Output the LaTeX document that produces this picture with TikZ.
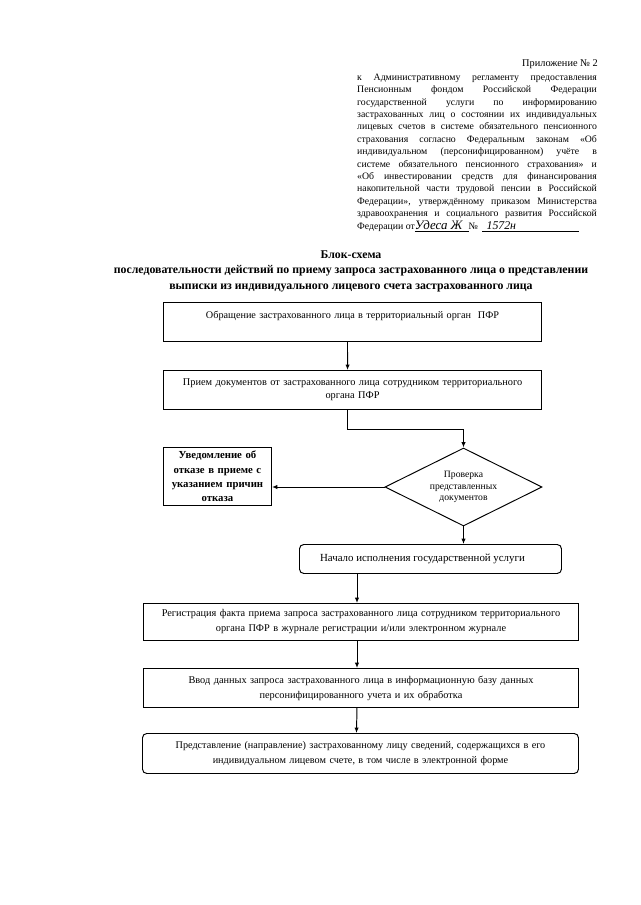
\documentclass[tikz,border=0pt]{standalone}
\usepackage{fontspec}
\setmainfont{Liberation Serif}
\usetikzlibrary{arrows.meta,shapes.geometric}
\def\u{0.9302pt}
\tikzset{
  box/.style={draw, line width=0.9pt, inner sep=1pt, align=center, anchor=north west, font=\fontsize{9.6}{12.5}\selectfont},
  lbox/.style={box, font=\fontsize{9.6}{14}\selectfont},
  rbox/.style={box, rounded corners=4pt},
  arr/.style={line width=0.9pt, -{Latex[length=5pt,width=4pt]}},
}
\begin{document}
\begin{tikzpicture}[x=\u, y=-\u]
\useasboundingbox (0,0) rectangle (640,905);
% header
\node[anchor=base east, inner sep=0pt, font=\fontsize{9.6}{12}\selectfont] (hd) at (598,67) {Приложение № 2};
\node[anchor=north west, inner sep=0pt, text width=223pt, align=justify, font=\fontsize{9.1}{11.55}\selectfont] (par) at (357,73.5)
{к Административному регламенту предоставления\linebreak
Пенсионным фондом Российской Федерации\linebreak
государственной услуги по информированию\linebreak
застрахованных лиц о состоянии их индивидуальных\linebreak
лицевых счетов в системе обязательного пенсионного\linebreak
страхования согласно Федеральным законам «Об\linebreak
индивидуальном (персонифицированном) учёте в\linebreak
системе обязательного пенсионного страхования» и\linebreak
«Об инвестировании средств для финансирования\linebreak
накопительной части трудовой пенсии в Российской\linebreak
Федерации», утверждённому приказом Министерства\linebreak
здравоохранения и социального развития Российской\linebreak
Федерации от\underline{\makebox[50pt][l]{\fontsize{12}{12}\itshape Удеса Ж}}№\hspace{4pt}\underline{\makebox[90pt][l]{\hspace{4pt}\fontsize{11}{11}\itshape 1572н}}};
% title
\node[font=\bfseries\fontsize{11}{14.2}\selectfont, align=center, anchor=north] (tt) at (351,247)
{Блок-схема\\последовательности действий по приему запроса застрахованного лица о представлении\\выписки из индивидуального лицевого счета застрахованного лица};
% boxes
\node[box, minimum width=378*\u, minimum height=39*\u, text width=374*\u, font=\fontsize{9.5}{12.5}\selectfont] (b1) at (163,302)
{Обращение застрахованного лица в территориальный орган\ \ ПФР\\\mbox{}};
\node[box, minimum width=378*\u, minimum height=39*\u, text width=376*\u] (b2) at (163,370)
{Прием документов от застрахованного лица сотрудником территориального\\органа ПФР};
\node[draw, line width=0.9pt, diamond, minimum width=157*\u, minimum height=78*\u, inner sep=0pt, aspect=2, align=center, font=\fontsize{9}{11}\selectfont] (d) at (463.5,487)
{Проверка\\представленных\\документов};
\node[box, minimum width=108*\u, minimum height=58*\u, text width=104*\u, font=\bfseries\fontsize{10}{13.3}\selectfont] (n) at (163,447)
{Уведомление об\\отказе в приеме с\\указанием причин\\отказа};
\node[rbox, minimum width=262*\u, minimum height=29*\u] (s) at (299,544) {};
\node[font=\fontsize{10.1}{12}\selectfont] (st) at ([xshift=-8*\u]s.center) {Начало исполнения государственной услуги};
\node[lbox, minimum width=435*\u, minimum height=37*\u, text width=432*\u] (r) at (143,603)
{Регистрация факта приема запроса застрахованного лица сотрудником территориального\\органа ПФР в журнале регистрации и/или электронном журнале};
\node[lbox, minimum width=435*\u, minimum height=39*\u, text width=432*\u] (v) at (143,668)
{Ввод данных запроса застрахованного лица в информационную базу данных\\персонифицированного учета и их обработка};
\node[lbox, rounded corners=4pt, minimum width=436*\u, minimum height=40*\u, text width=432*\u, font=\fontsize{9.5}{14}\selectfont] (p) at (142,733)
{Представление (направление) застрахованному лицу сведений, содержащихся в его\\индивидуальном лицевом счете, в том числе в электронной форме};
% connectors
\draw[arr] ([xshift=-5*\u]b1.south) -- ([xshift=-5*\u]b2.north);
\coordinate (j) at (347,429);
\draw[arr] (j |- b2.south) -- (j) -| (d.north);
\draw[arr] (d.west) -- (d.west -| n.east);
\draw[arr] (d.south) -- (d.south |- s.north);
\draw[arr] ([xshift=-4*\u]r.north |- s.south) -- ([xshift=-4*\u]r.north);
\draw[arr] ([xshift=-4*\u]r.south) -- ([xshift=-4*\u]v.north);
\draw[arr] ([xshift=-4*\u]v.south) -- ([xshift=-4*\u]p.north);
\end{tikzpicture}
\end{document}
